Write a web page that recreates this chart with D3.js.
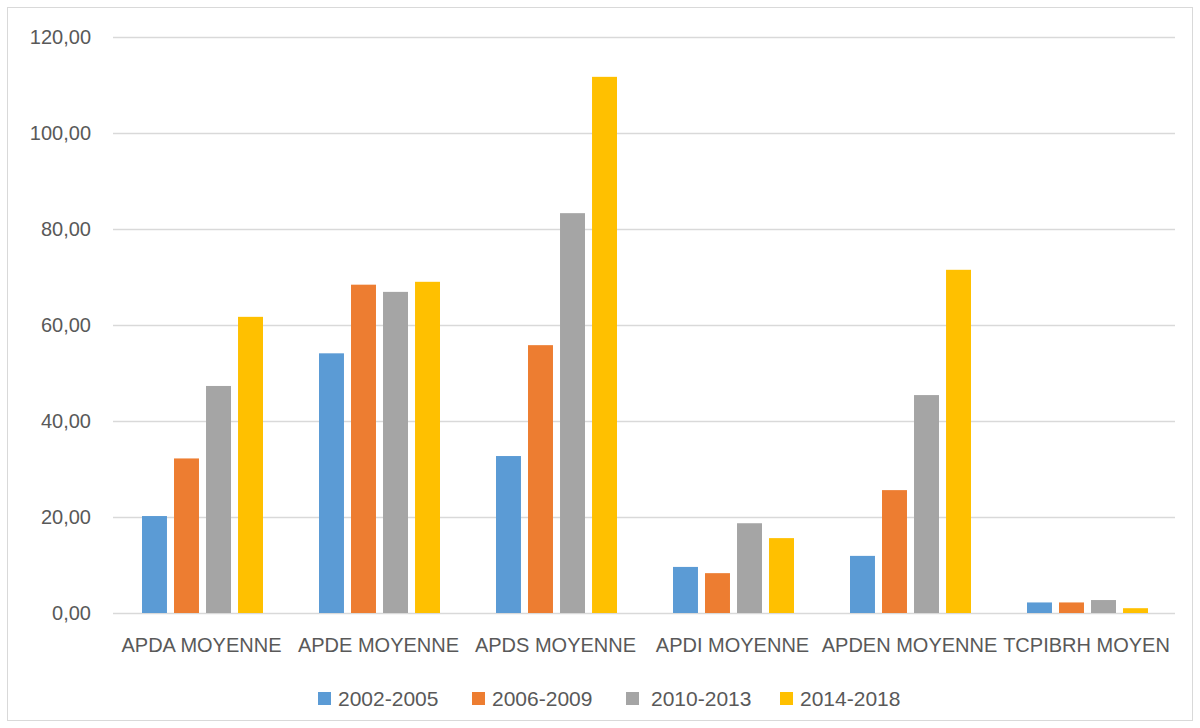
<!DOCTYPE html>
<html>
<head>
<meta charset="utf-8">
<script src="https://cdn.jsdelivr.net/npm/d3@7"></script>
<style>
  body { margin: 0; background: #fff; }
  text { font-family: "Liberation Sans", Arial, sans-serif; fill: #595959; }
</style>
</head>
<body>
<svg id="chart" width="1200" height="728"></svg>
<script>
// Chart data
var categories = ["APDA MOYENNE", "APDE MOYENNE", "APDS MOYENNE", "APDI MOYENNE", "APDEN MOYENNE", "TCPIBRH MOYEN"];
var periods = ["2002-2005", "2006-2009", "2010-2013", "2014-2018"];
var v2002 = [20.2, 54.1, 32.7, 9.6, 11.9, 2.2];
var v2006 = [32.2, 68.4, 55.8, 8.3, 25.6, 2.2];
var v2010 = [47.3, 66.9, 83.3, 18.7, 45.4, 2.7];
var v2014 = [61.7, 69.0, 111.7, 15.6, 71.5, 1.0];
var yTicks = [0, 20, 40, 60, 80, 100, 120];
var colors = ["#5b9bd5", "#ed7d31", "#a5a5a5", "#ffc000"];

var series = [v2002, v2006, v2010, v2014];
var svg = d3.select("#chart");
var margin = {left: 113, right: 25, top: 37, bottom: 115};
var W = 1200, H = 728;

// outer frame
svg.append("rect")
    .attr("x", 7.5).attr("y", 7.5)
    .attr("width", W - 15).attr("height", H - 15)
    .attr("fill", "#fff").attr("stroke", "#d9d9d9").attr("stroke-width", 1);

var x0 = d3.scaleBand().domain(categories).range([margin.left, W - margin.right]);
var x1 = d3.scaleBand().domain(periods).range([29, 150]).paddingInner(0.22);
var y = d3.scaleLinear().domain([0, 120]).range([H - margin.bottom, margin.top]);

// gridlines
svg.append("g").selectAll("line")
    .data(yTicks)
    .enter().append("line")
    .attr("x1", margin.left).attr("x2", W - margin.right)
    .attr("y1", function (d) { return Math.round(y(d)) + 0.5; })
    .attr("y2", function (d) { return Math.round(y(d)) + 0.5; })
    .attr("stroke", "#d9d9d9").attr("stroke-width", 1.3);

// y labels
var fmt = function (d) { return d3.format(".2f")(d).replace(".", ","); };
svg.append("g").selectAll("text")
    .data(yTicks)
    .enter().append("text")
    .attr("x", 91)
    .attr("y", function (d) { return y(d); })
    .attr("dy", "0.36em")
    .attr("text-anchor", "end")
    .style("font-size", "20px")
    .text(fmt);

// bars
var groups = svg.append("g").selectAll("g")
    .data(categories)
    .enter().append("g")
    .attr("transform", function (d) { return "translate(" + x0(d) + ",0)"; });

groups.selectAll("rect")
    .data(function (d, i) {
        return periods.map(function (p, j) { return {period: p, value: series[j][i], idx: j}; });
    })
    .enter().append("rect")
    .attr("x", function (d) { return x1(d.period); })
    .attr("width", x1.bandwidth())
    .attr("y", function (d) { return y(d.value); })
    .attr("height", function (d) { return y(0) - y(d.value); })
    .attr("fill", function (d) { return colors[d.idx]; });

// category labels
svg.append("g").selectAll("text")
    .data(categories)
    .enter().append("text")
    .attr("x", function (d) { return x0(d) + x0.bandwidth() / 2; })
    .attr("y", 652)
    .attr("text-anchor", "middle")
    .style("font-size", "20px")
    .text(function (d) { return d; });

// legend
var legend = svg.append("g").selectAll("g")
    .data(periods)
    .enter().append("g")
    .attr("transform", function (d, i) { return "translate(" + (318 + i * 154) + ",692)"; });
legend.append("rect")
    .attr("width", 13).attr("height", 13)
    .attr("fill", function (d, i) { return colors[i]; });
legend.append("text")
    .attr("x", function (d, i) { return i == 2 ? 25 : 20; })
    .attr("y", 6.5)
    .attr("dy", "0.36em")
    .style("font-size", "21px")
    .text(function (d) { return d; });
</script>
</body>
</html>
